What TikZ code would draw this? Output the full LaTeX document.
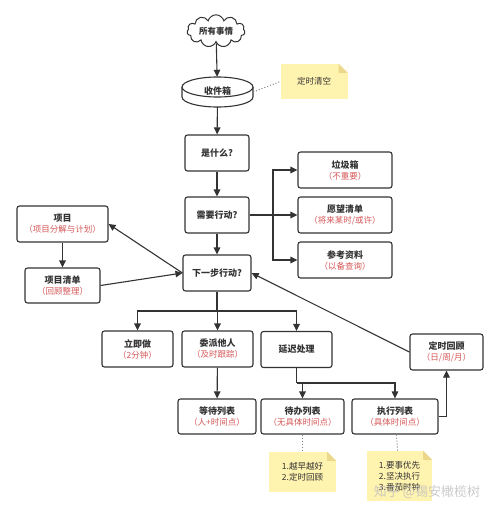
\documentclass[tikz,border=0pt]{standalone}
\usepackage{fontspec}
\setmainfont{Noto Sans CJK SC}
\usetikzlibrary{arrows.meta,shapes.symbols}
\definecolor{linegray}{RGB}{51,51,51}
\definecolor{subred}{RGB}{214,88,88}
\definecolor{notefill}{RGB}{255,243,176}
\definecolor{notefold}{RGB}{236,216,138}
\newcommand{\subtxt}[1]{{\mdseries\fontsize{8.5}{11}\selectfont\color{subred}#1}}
\newcommand{\foldcorner}[1]{%
  \fill[white] ([xshift=-9pt]#1.north east) -- (#1.north east) -- ([yshift=-9pt]#1.north east) -- cycle;
  \fill[notefold] ([xshift=-9pt]#1.north east) -- ([yshift=-9pt]#1.north east) -- ([xshift=-9pt,yshift=-9pt]#1.north east) -- cycle;}

\begin{document}
\begin{tikzpicture}[x=1pt, y=-1pt, >={Triangle[length=7pt,width=6.5pt]},
    box/.style={draw=linegray, line width=1.1pt, rounded corners=2.5pt, fill=white, align=center,
        font=\fontsize{9}{11}\selectfont\bfseries, text=linegray, inner sep=0pt},
    link/.style={draw=linegray, line width=1.1pt},
    dots/.style={draw=gray, line width=1pt, dotted},
    memo/.style={fill=notefill, align=left, font=\fontsize{8.5}{11}\selectfont, text=linegray, inner sep=0pt}]
\useasboundingbox (0,0) rectangle (500,511);

% collect
\node[cloud, cloud puffs=11, aspect=2.1, draw=linegray, line width=1pt, fill=white,
    minimum width=58, minimum height=28, inner sep=0pt,
    font=\fontsize{8.5}{11}\selectfont\bfseries, text=linegray] (all) at (216,31) {所有事情};
\draw[link, fill=white] (182,87) -- (182,97) arc[start angle=180, end angle=0, x radius=35.5, y radius=10] -- (253,87);
\draw[link, fill=white] (217.5,87) ellipse[x radius=35.5, y radius=10];
\node[minimum width=71, minimum height=30, inner sep=0pt,
    font=\fontsize{9}{11}\selectfont\bfseries, text=linegray] (inbox) at (217.5,92) {\raisebox{3pt}{收件箱}};
\node[memo, minimum width=67, minimum height=35] (clearnote) at (314,81.5) {定时清空};
\foldcorner{clearnote}

% process
\node[box, minimum width=64, minimum height=36] (what) at (217,153) {是什么?};
\node[box, minimum width=64, minimum height=36] (need) at (217,215) {需要行动?};
\node[box, minimum width=68, minimum height=36] (next) at (217,273) {下一步行动?};
\node[box, minimum width=94, minimum height=36] (trash) at (345,170) {垃圾箱\\\subtxt{（不重要）}};
\node[box, minimum width=94, minimum height=36] (someday) at (345,215) {愿望清单\\\subtxt{（将来某时/或许）}};
\node[box, minimum width=94, minimum height=36] (refer) at (345,260) {参考资料\\\subtxt{（以备查询）}};
\node[box, minimum width=91, minimum height=36] (proj) at (62.5,224) {项目\\\subtxt{（项目分解与计划）}};
\node[box, minimum width=75, minimum height=35] (projlist) at (62.5,285.5) {项目清单\\\subtxt{（回顾整理）}};

% organize
\node[box, minimum width=71, minimum height=36] (now) at (137.5,349) {立即做\\\subtxt{（2分钟）}};
\node[box, minimum width=71, minimum height=36] (assign) at (217.5,349) {委派他人\\\subtxt{（及时跟踪）}};
\node[box, minimum width=71, minimum height=36] (delay) at (296.5,349.5) {延迟处理};
\node[box, minimum width=73, minimum height=36] (review) at (446.5,352) {定时回顾\\\subtxt{（日/周/月）}};
\node[box, minimum width=78, minimum height=35] (wait) at (217,416.5) {等待列表\\\subtxt{（人+时间点）}};
\node[box, minimum width=83, minimum height=35] (todo) at (302.5,416.5) {待办列表\\\subtxt{（无具体时间点）}};
\node[box, minimum width=86, minimum height=35] (exec) at (395,416.5) {执行列表\\\subtxt{（具体时间点）}};

\node[memo, minimum width=67, minimum height=40] (todonote) at (302.5,472) {1.越早越好\\2.定时回顾};
\foldcorner{todonote}
\node[memo, minimum width=65, minimum height=50] (execnote) at (399.5,476) {1.要事优先\\2.坚决执行\\3.番茄时钟};
\foldcorner{execnote}

\coordinate (fork1) at (273,215);
\coordinate (fork2) at (217,311);
\coordinate (fork3) at (296.5,383);

\draw[link, ->] (all) -- (inbox);
\draw[link, ->] (inbox) -- (what);
\draw[link, ->] (what) -- (need);
\draw[link, ->] (need) -- (next);
\draw[link] (need.east) -- (fork1);
\foreach \n in {trash,someday,refer}
{
    \draw[link, ->] (fork1) |- (\n);
}
\draw[link, ->] (proj) -- (projlist);
\draw[link, ->] (projlist.east) -- (next.west);
\draw[link, ->] (next.west) -- (proj.east);
\draw[link] (next) -- (fork2);
\foreach \n in {now,assign,delay}
{
    \draw[link, ->] (fork2) -| (\n);
}
\draw[link, ->] (assign) -- (wait);
\draw[link] (delay) -- (fork3);
\foreach \n in {todo,exec}
{
    \draw[link, ->] (fork3) -| (\n);
}
\draw[link, ->] (exec.east) -| (review);
\draw[link, ->] (review.west) -- (next.east);

\draw[dots] (inbox.east) -- (clearnote.west);
\draw[dots] (todo) -- (todonote);
\draw[dots] (exec) -- (execnote);

\node[text=gray!50, text opacity=.8, font=\fontsize{13}{15}\selectfont] (mark) at (427,492) {知乎 @锡安橄榄树};

\end{tikzpicture}
\end{document}
